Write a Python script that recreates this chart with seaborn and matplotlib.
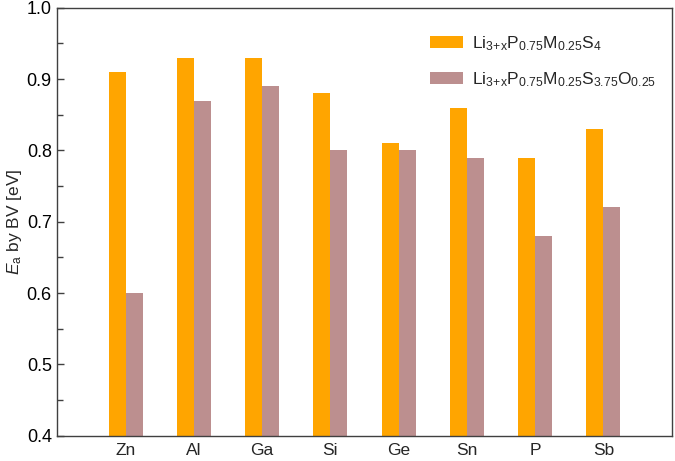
import matplotlib
matplotlib.use("Agg")
import matplotlib.pyplot as plt
import pandas as pd
import seaborn as sns
from matplotlib.ticker import MultipleLocator

# Data
elements = ['Zn', 'Al', 'Ga', 'Si', 'Ge', 'Sn', 'P', 'Sb']
ea_sulfide = [0.91, 0.93, 0.93, 0.88, 0.81, 0.86, 0.79, 0.83]
ea_oxysulfide = [0.60, 0.87, 0.89, 0.80, 0.80, 0.79, 0.68, 0.72]
series_names = [r'Li$_{\mathrm{3\!+\!x}}$P$_{0.75}$M$_{0.25}$S$_4$',
                r'Li$_{\mathrm{3\!+\!x}}$P$_{0.75}$M$_{0.25}$S$_{3.75}$O$_{0.25}$']

df = pd.DataFrame({
    'M': elements * 2,
    'Ea': ea_sulfide + ea_oxysulfide,
    'series': [series_names[0]] * len(elements) + [series_names[1]] * len(elements),
})

sns.set_style("ticks")
plt.rcParams['font.family'] = ['Liberation Sans', 'DejaVu Sans']
plt.rcParams['mathtext.fontset'] = 'custom'
plt.rcParams['mathtext.rm'] = 'Liberation Sans'
plt.rcParams['mathtext.it'] = 'Liberation Sans:italic'

fig, ax = plt.subplots(figsize=(6.75, 4.61), dpi=100)
fig.subplots_adjust(left=0.085, right=0.995, top=0.983, bottom=0.055)

sns.barplot(data=df, x='M', y='Ea', hue='series', order=elements,
            palette=['#FFA500', '#BC8F8F'], width=0.5, saturation=1,
            linewidth=0, ax=ax)

ax.set_xlim(-1, 8)
ax.set_ylim(0.4, 1.0)
ax.yaxis.set_major_locator(MultipleLocator(0.1))
ax.yaxis.set_minor_locator(MultipleLocator(0.05))
ax.tick_params(axis='y', which='major', direction='in', length=5, width=1,
               color='#404040', labelsize=13, labelcolor='black', pad=4)
ax.tick_params(axis='y', which='minor', direction='in', length=4, width=1,
               color='#404040')
ax.tick_params(axis='x', length=0, labelsize=12.5, pad=5)
for s in ax.spines.values():
    s.set_visible(True)
    s.set_color('#404040')
    s.set_linewidth(1)

ax.set_xlabel('')
ax.set_ylabel(r'$E_{\mathrm{a}}$ by BV [eV]', fontsize=12.5, labelpad=2)

ax.legend(loc='upper right', frameon=False, fontsize=12.5, title=None,
          handlelength=1.9, handleheight=0.7, handletextpad=0.5,
          labelspacing=1.0, bbox_to_anchor=(1.0, 0.975))

plt.savefig('out.png', dpi=100)
